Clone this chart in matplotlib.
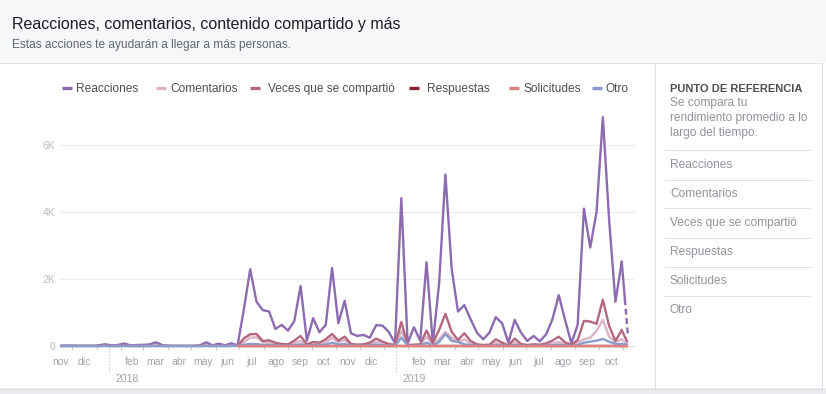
"""Reacciones, comentarios, contenido compartido y más: weekly-ish engagement chart."""

import matplotlib
matplotlib.use("Agg")
import matplotlib.pyplot as plt
import matplotlib.dates as mdates
import matplotlib.transforms as mtransforms
from matplotlib.lines import Line2D
from matplotlib.patches import Rectangle
from matplotlib.ticker import NullFormatter
import numpy as np
import pandas as pd

plt.rcParams["font.family"] = ["Liberation Sans", "DejaVu Sans"]

# ---- data ----
series_names = ["Reacciones", "Comentarios", "Veces que se compartió",
                "Respuestas", "Solicitudes", "Otro"]
series_colors = ["#8c6bb1", "#dcb4c9", "#b3687f", "#8b2232", "#e0807f", "#8a9ccc"]

dates = pd.date_range("2017-11-17", periods=91, freq="8D")

reacciones = [
    10, 15, 10, 5, 10, 5, 25, 50, 20, 30,
    75, 20, 30, 35, 45, 110, 30, 10, 5, 5,
    5, 5, 20, 110, 20, 70, 20, 80, 20, 1100,
    2290, 1320, 1070, 1030, 510, 630, 460, 740, 1790, 160,
    830, 410, 630, 2330, 680, 1350, 380, 300, 330, 250,
    620, 610, 420, 80, 4410, 80, 560, 160, 2500, 80,
    1870, 5120, 2290, 1030, 1220, 800, 400, 200, 400, 860,
    680, 100, 780, 400, 150, 300, 140, 350, 800, 1520,
    780, 80, 630, 4100, 2940, 4000, 6830, 3760, 1320, 2510,
    280,
]
comentarios = [
    0, 0, 0, 0, 0, 0, 0, 5, 0, 0,
    5, 0, 0, 0, 0, 5, 0, 0, 0, 0,
    0, 0, 0, 5, 0, 5, 0, 5, 5, 120,
    250, 260, 110, 100, 70, 40, 30, 90, 150, 30,
    70, 60, 100, 250, 100, 180, 40, 30, 30, 50,
    120, 80, 40, 20, 450, 20, 30, 30, 280, 30,
    200, 420, 250, 120, 200, 80, 30, 20, 25, 90,
    50, 10, 100, 30, 15, 30, 20, 40, 70, 120,
    60, 15, 100, 200, 250, 450, 780, 280, 120, 200,
    40,
]
veces_compartido = [
    0, 0, 0, 0, 0, 0, 0, 5, 0, 0,
    5, 0, 0, 0, 0, 5, 0, 0, 0, 0,
    0, 0, 0, 5, 0, 5, 0, 5, 5, 230,
    350, 360, 150, 170, 100, 60, 50, 160, 300, 50,
    120, 100, 200, 360, 160, 280, 60, 40, 50, 100,
    220, 130, 60, 30, 720, 30, 40, 50, 460, 80,
    480, 960, 420, 180, 380, 150, 50, 30, 40, 200,
    100, 20, 220, 60, 30, 50, 40, 80, 160, 280,
    110, 30, 180, 750, 730, 660, 1380, 600, 150, 470,
    80,
]
respuestas = [
    None, None, None, None, None, None, None, None, None, None,
    None, None, None, None, None, None, None, None, None, None,
    None, None, None, None, None, None, None, None, 0, 0,
    0, 0, 0, 0, 0, 0, 0, 0, 0, 0,
    0, 0, 0, 0, 0, 0, 0, 0, 0, 0,
    0, 0, 0, 0, 0, 0, 0, 0, 0, 0,
    0, 0, 0, 0, 0, 0, 0, 0, 0, 0,
    0, 0, 0, 0, 0, 0, 0, 0, 0, 0,
    0, 0, 0, 0, 0, 0, 0, 0, 0, 0,
    0,
]
solicitudes = [
    None, None, None, None, None, None, None, None, None, None,
    None, None, None, None, None, None, None, None, None, None,
    None, None, None, None, None, None, None, None, 0, 0,
    0, 0, 0, 0, 0, 0, 0, 0, 0, 0,
    0, 0, 0, 0, 0, 0, 0, 0, 0, 0,
    0, 0, 0, 0, 0, 0, 0, 0, 0, 0,
    0, 0, 0, 0, 0, 0, 0, 0, 0, 0,
    0, 0, 0, 0, 0, 0, 0, 0, 0, 0,
    0, 0, 0, 0, 0, 0, 0, 0, 0, 0,
    0,
]
otro = [
    0, 0, 0, 0, 0, 0, 0, 0, 0, 0,
    0, 0, 0, 0, 0, 0, 0, 0, 0, 0,
    0, 0, 0, 0, 0, 0, 0, 0, 5, 40,
    60, 60, 30, 30, 20, 15, 10, 25, 50, 10,
    25, 20, 40, 100, 40, 60, 15, 10, 10, 20,
    40, 25, 15, 5, 250, 10, 10, 10, 100, 10,
    120, 360, 150, 120, 50, 30, 10, 5, 10, 30,
    15, 5, 30, 10, 5, 10, 5, 15, 20, 40,
    20, 5, 30, 100, 130, 160, 210, 130, 60, 60,
    30,
]
all_series = [reacciones, comentarios, veces_compartido, respuestas, solicitudes, otro]

y_ticks = [0, 2000, 4000, 6000]
y_tick_labels = ["0", "2K", "4K", "6K"]
month_abbr = ["ene", "feb", "mar", "abr", "may", "jun",
              "jul", "ago", "sep", "oct", "nov", "dic"]
benchmark_title = "PUNTO DE REFERENCIA"
benchmark_desc = ["Se compara tu", "rendimiento promedio a lo", "largo del tiempo."]

# ---- layout helpers (pixel -> figure fraction) ----
W, H = 826, 394
BORDER = "#dddfe2"
GREY_TXT = "#90949c"
LW = 1.7


def fx(x):
    return x / W


def fy(y):
    return 1 - y / H


fig = plt.figure(figsize=(W / 100, H / 100), dpi=100)
fig.patch.set_facecolor("white")

# card background pieces
fig.add_artist(Rectangle((0, fy(62)), 1, 1 - fy(62), transform=fig.transFigure,
                         facecolor="#f6f7f9", edgecolor="none", zorder=0))
fig.add_artist(Rectangle((0, 0), 1, fy(388), transform=fig.transFigure,
                         facecolor="#e9ebee", edgecolor="none", zorder=0))
for y in (62.5, 388.5):
    fig.add_artist(Line2D([0, fx(822)], [fy(y), fy(y)], transform=fig.transFigure,
                          color=BORDER, lw=0.8))
for x in (654.5, 822):
    fig.add_artist(Line2D([fx(x), fx(x)], [fy(63), fy(388)],
                          transform=fig.transFigure, color=BORDER, lw=0.8))

# header
fig.text(fx(12), fy(29.3), "Reacciones, comentarios, contenido compartido y más",
         fontsize=11.5, color="#1c1e21", va="baseline", ha="left")
fig.text(fx(12), fy(47.7), "Estas acciones te ayudarán a llegar a más personas.",
         fontsize=8.6, color="#606770", va="baseline", ha="left")

# legend, drawn by hand to match the reference spacing
legend_marker_x = [62, 156, 250, 409, 509, 592]
legend_text_x = [76, 170, 268, 427, 523, 606]
for name, color, mx, tx in zip(series_names, series_colors, legend_marker_x, legend_text_x):
    fig.add_artist(Line2D([fx(mx), fx(mx + 10)], [fy(88), fy(88)],
                          transform=fig.transFigure, color=color, lw=2.4,
                          solid_capstyle="butt"))
    fig.text(fx(tx), fy(92.3), name, fontsize=8.6, color="#4b4f56",
             va="baseline", ha="left")

# right benchmark panel
fig.text(fx(670), fy(91.7), benchmark_title, fontsize=8, fontweight="bold",
         color="#4b4f56", va="baseline", ha="left")
for i, line in enumerate(benchmark_desc):
    fig.text(fx(670), fy(105.7 + 15 * i), line, fontsize=8.6, color=GREY_TXT,
             va="baseline", ha="left")
for i, name in enumerate(series_names):
    y_sep = 150.5 + 29 * i
    fig.add_artist(Line2D([fx(665), fx(810)], [fy(y_sep), fy(y_sep)],
                          transform=fig.transFigure, color=BORDER, lw=0.8))
    fig.text(fx(670), fy(167.7 + 29 * i), name, fontsize=8.6, color=GREY_TXT,
             va="baseline", ha="left")

# ---- plot area ----
ax = fig.add_axes([fx(60), fy(347), (634 - 60) / W, (347 - 110) / H])
ax.set_facecolor("none")

for name, vals, color in zip(series_names, all_series, series_colors):
    y = np.array([np.nan if v is None else v for v in vals], dtype=float)
    z = 4 if name == "Solicitudes" else 3
    ax.plot(dates[:-1], y[:-1], color=color, lw=LW, clip_on=False, zorder=z)
    # last period is still open: solid for the first half, dashed afterwards
    mid_x = dates[-2] + (dates[-1] - dates[-2]) / 2
    mid_y = (y[-2] + y[-1]) / 2
    ax.plot([dates[-2], mid_x], [y[-2], mid_y], color=color, lw=LW,
            clip_on=False, zorder=z)
    ax.plot([mid_x, dates[-1]], [mid_y, y[-1]], color=color, lw=LW,
            ls=(0, (2.5, 1.5)), clip_on=False, zorder=z)

ax.set_xlim(pd.Timestamp("2017-11-15 09:00"), pd.Timestamp("2019-11-14 14:00"))
ax.set_ylim(-30, 7045)

for side in ("top", "right", "left"):
    ax.spines[side].set_visible(False)
ax.spines["bottom"].set_position(("data", 0))
ax.spines["bottom"].set_color(BORDER)
ax.spines["bottom"].set_linewidth(0.8)

ax.set_yticks(y_ticks)
ax.set_yticklabels(y_tick_labels)
ax.yaxis.grid(True, color="#e9ebee", lw=0.8)
ax.set_axisbelow(True)
ax.tick_params(axis="y", length=0, pad=3.6, labelsize=7.5, labelcolor="#b9bcc1")

ax.xaxis.set_major_locator(mdates.MonthLocator())
ax.xaxis.set_major_formatter(NullFormatter())
ax.tick_params(axis="x", length=3, width=0.8, color="#ccd0d5", direction="out")

# month labels at month centres, year marker in place of January
xfig = mtransforms.blended_transform_factory(ax.transData, fig.transFigure)
year_off = mtransforms.offset_copy(xfig, fig=fig, x=4.5, units="points")
for start in pd.date_range("2017-11-01", "2019-10-01", freq="MS"):
    centre = start + (start + pd.offsets.MonthBegin(1) - start) / 2
    if start.month == 1:
        ax.plot([centre, centre], [fy(347), fy(373)], transform=xfig,
                color="#ccd0d5", lw=0.8, ls=(0, (1.5, 1.5)), clip_on=False)
        ax.text(centre, fy(382.3), str(start.year), transform=year_off,
                fontsize=7.5, color="#a0a4aa", ha="left", va="baseline")
    else:
        ax.text(centre, fy(365), month_abbr[start.month - 1], transform=xfig,
                fontsize=7.5, color="#a0a4aa", ha="center", va="baseline")

fig.savefig("out.png", dpi=100)
